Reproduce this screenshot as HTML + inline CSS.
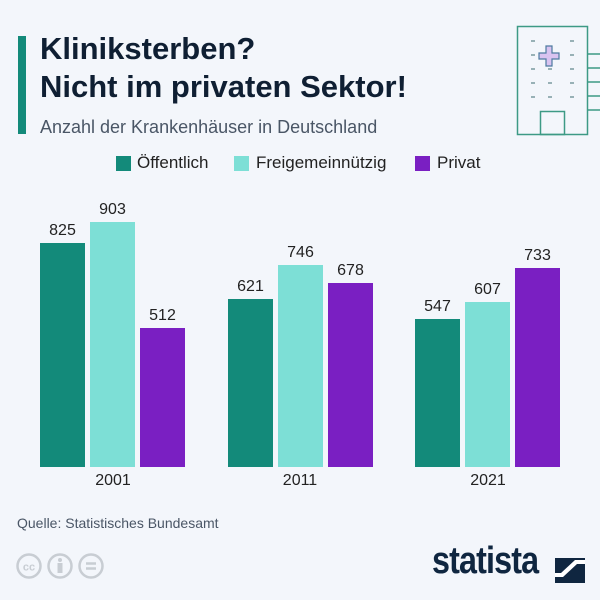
<!DOCTYPE html><html><head><meta charset="utf-8"><style>
body{margin:0;width:600px;height:600px;background:#f3f6fb;font-family:"Liberation Sans",sans-serif;position:relative;overflow:hidden}
.a{position:absolute}
.v{position:absolute;width:45px;text-align:center;font-size:16px;color:#222}
.b{position:absolute;width:45px}
.y{position:absolute;font-size:16px;color:#222;width:100px;text-align:center}
</style></head><body>
<div class="a" style="left:18px;top:36px;width:8px;height:98px;background:#138a7a"></div>
<div class="a" style="left:40px;top:30px;font-size:31px;font-weight:bold;color:#0f1f33;line-height:38px">Kliniksterben?<br>Nicht im privaten Sektor!</div>
<div class="a" style="left:40px;top:117px;font-size:18px;color:#4a5666">Anzahl der Krankenhäuser in Deutschland</div>
<svg class="a" style="left:490px;top:0" width="110" height="140">
<g fill="none" stroke="#3d9a85" stroke-width="1.5">
<rect x="27.5" y="26.5" width="70" height="108"/>
<rect x="50.5" y="111.5" width="24" height="23"/>
<path d="M97.5 54H110M97.5 68H110M97.5 82H110M97.5 96H110M97.5 110H110"/>
</g>
<path d="M56 46h6v7h7v6h-7v7h-6v-7h-7v-6h7z" fill="#d9c3f0" stroke="#4d7aa0" stroke-width="1.2"/>
<g stroke="#7a9aa0" stroke-width="1.5">
<path d="M41 41h4M80 41h4M41 55h4M80 55h4M41 69h4M58 69h4M80 69h4M41 83h4M58 83h4M80 83h4M41 97h4M58 97h4M80 97h4"/></g>
</svg>
<div class="a" style="left:116px;top:156px;width:15px;height:15px;background:#138a7a"></div>
<div class="a" style="left:137px;top:153px;font-size:17px;color:#222">Öffentlich</div>
<div class="a" style="left:234px;top:156px;width:15px;height:15px;background:#7ddfd6"></div>
<div class="a" style="left:256px;top:153px;font-size:17px;color:#222">Freigemeinnützig</div>
<div class="a" style="left:415px;top:156px;width:15px;height:15px;background:#7a1fc2"></div>
<div class="a" style="left:437px;top:153px;font-size:17px;color:#222">Privat</div>

<div class="b" style="left:40px;top:243px;height:224px;background:#138a7a"></div><div class="v" style="left:40px;top:222px">825</div>
<div class="b" style="left:90px;top:222px;height:245px;background:#7ddfd6"></div><div class="v" style="left:90px;top:201px">903</div>
<div class="b" style="left:140px;top:328px;height:139px;background:#7a1fc2"></div><div class="v" style="left:140px;top:307px">512</div>
<div class="b" style="left:228px;top:299px;height:168px;background:#138a7a"></div><div class="v" style="left:228px;top:278px">621</div>
<div class="b" style="left:278px;top:265px;height:202px;background:#7ddfd6"></div><div class="v" style="left:278px;top:244px">746</div>
<div class="b" style="left:328px;top:283px;height:184px;background:#7a1fc2"></div><div class="v" style="left:328px;top:262px">678</div>
<div class="b" style="left:415px;top:319px;height:148px;background:#138a7a"></div><div class="v" style="left:415px;top:298px">547</div>
<div class="b" style="left:465px;top:302px;height:165px;background:#7ddfd6"></div><div class="v" style="left:465px;top:281px">607</div>
<div class="b" style="left:515px;top:268px;height:199px;background:#7a1fc2"></div><div class="v" style="left:515px;top:247px">733</div>
<div class="y" style="left:63px;top:472px">2001</div>
<div class="y" style="left:250px;top:472px">2011</div>
<div class="y" style="left:438px;top:472px">2021</div>
<div class="a" style="left:17px;top:515px;font-size:14px;color:#4a5666">Quelle: Statistisches Bundesamt</div>
<svg class="a" style="left:16px;top:552px" width="100" height="30" fill="none" stroke="#c8cdd3" stroke-width="2.5">
<circle cx="13" cy="14" r="11.5"/><circle cx="44" cy="14" r="11.5"/><circle cx="75" cy="14" r="11.5"/>
<text x="13" y="18.5" font-size="11" font-weight="bold" fill="#c8cdd3" stroke="none" text-anchor="middle" font-family="Liberation Sans">cc</text>
<circle cx="44" cy="8" r="2" fill="#c8cdd3" stroke="none"/><rect x="41.5" y="11" width="5" height="10" fill="#c8cdd3" stroke="none"/>
<path d="M70 11.5h10M70 16.5h10"/></svg>
<div class="a" style="left:432px;top:540px;font-size:38px;font-weight:bold;color:#0f2640;letter-spacing:-1px;transform:scaleX(0.85);transform-origin:left">statista</div>
<svg class="a" style="left:555px;top:558px" width="30" height="25"><rect width="30" height="25" fill="#0f2640"/><path d="M0 19 L8 19 L22 6 L30 6 L30 2 L20 2 L6 15 L0 15z" fill="#fff"/></svg>
</body></html>
